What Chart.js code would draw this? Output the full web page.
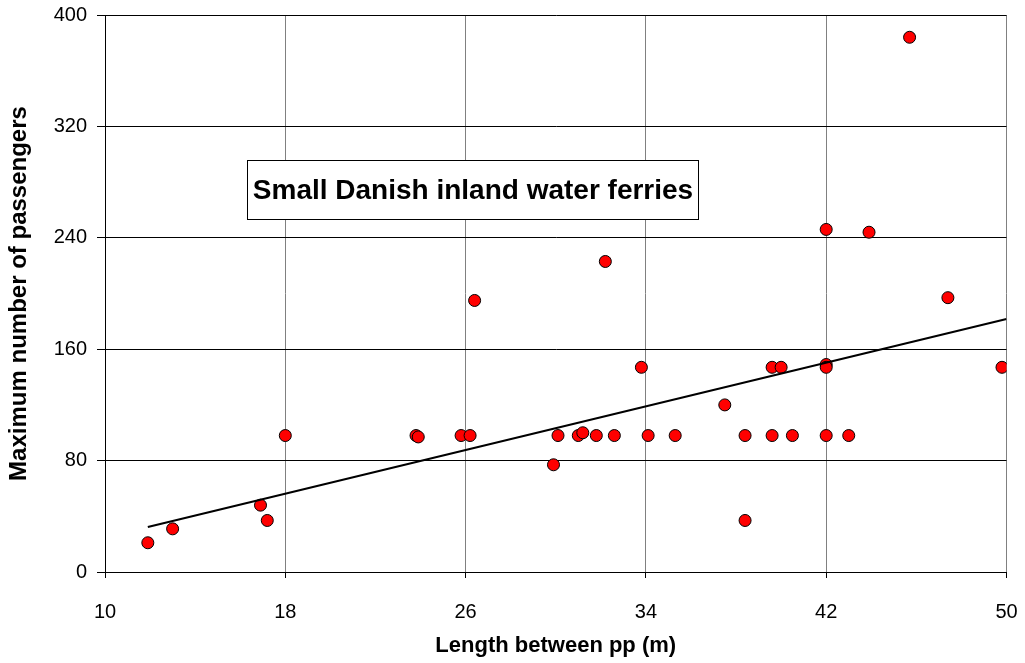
<!DOCTYPE html>
<html>
<head>
<meta charset="utf-8">
<script src="https://cdn.jsdelivr.net/npm/chart.js@4/dist/chart.umd.min.js"></script>
<style>
  html, body { margin: 0; padding: 0; background: #ffffff; }
  #wrap { width: 1025px; height: 663px; }
</style>
</head>
<body>
<div id="wrap"><canvas id="c" width="1025" height="663"></canvas></div>
<script>
// Ferry length between perpendiculars (m) and certified passenger capacity
const lengthPP = [11.9, 13.0, 16.9, 17.2, 18.0, 23.8, 23.9, 25.8, 26.2, 26.4, 29.9, 30.1,
                  31.0, 31.2, 31.8, 32.2, 32.6, 33.8, 34.1, 35.3, 37.5, 38.4, 38.4, 39.6,
                  40.0, 39.6, 40.5, 42.0, 42.0, 42.0, 43.0, 45.7, 42.0, 43.9, 47.4, 49.8];
const maxPassengers = [21, 31, 48, 37, 98, 98, 97, 98, 98, 195, 77, 98,
                       98, 100, 98, 223, 98, 147, 98, 98, 120, 98, 37, 147,
                       147, 98, 98, 149, 147, 98, 98, 384, 246, 244, 197, 147];

// Linear trend line end points
const trendLength = [11.9, 50];
const trendPassengers = [32.3, 181.7];

// Axis ticks
const xTicks = [10, 18, 26, 34, 42, 50];
const yTicks = [0, 80, 160, 240, 320, 400];

const chartTitle = 'Small Danish inland water ferries';
const xTitle = 'Length between pp (m)';
const yTitle = 'Maximum number of passengers';

const FONT = "'Liberation Sans', Arial, sans-serif";
const TICK_FONT = { family: FONT, size: 20 };

const scatterData = lengthPP.map((x, i) => ({ x, y: maxPassengers[i] }));
const trendData = trendLength.map((x, i) => ({ x, y: trendPassengers[i] }));

// Boxed caption drawn inside the plot area
const captionBox = {
  id: 'captionBox',
  afterDraw(chart) {
    const ctx = chart.ctx;
    const left = 247.5, top = 160.5, right = 698.5, bottom = 219.5;
    ctx.save();
    ctx.fillStyle = '#ffffff';
    ctx.fillRect(left, top, right - left, bottom - top);
    ctx.strokeStyle = '#000000';
    ctx.lineWidth = 1;
    ctx.strokeRect(left, top, right - left, bottom - top);
    ctx.fillStyle = '#000000';
    ctx.font = "bold 28px " + FONT;
    ctx.textAlign = 'center';
    ctx.textBaseline = 'middle';
    ctx.fillText(chartTitle, (left + right) / 2, (top + bottom) / 2 + 1);
    ctx.restore();
  }
};

new Chart(document.getElementById('c'), {
  type: 'scatter',
  data: {
    datasets: [
      {
        type: 'line',
        data: trendData,
        borderColor: '#000000',
        borderWidth: 2,
        pointRadius: 0,
        fill: false,
        tension: 0,
        order: 0
      },
      {
        data: scatterData,
        backgroundColor: '#ff0000',
        borderColor: '#000000',
        borderWidth: 1,
        pointRadius: 6,
        pointHoverRadius: 6,
        order: 1
      }
    ]
  },
  options: {
    responsive: false,
    animation: false,
    devicePixelRatio: 1,
    layout: { padding: { left: 0, right: 18.5, top: 15, bottom: 0 } },
    plugins: {
      legend: { display: false },
      tooltip: { enabled: false }
    },
    scales: {
      x: {
        type: 'linear',
        min: 10,
        max: 50,
        afterBuildTicks: (scale) => { scale.ticks = xTicks.map(v => ({ value: v })); },
        afterFit: (scale) => {
          scale.height = 91;
          scale.paddingLeft = 0;
          scale.paddingRight = 0;
        },
        ticks: {
          color: '#000000',
          font: TICK_FONT,
          padding: 22,
          maxRotation: 0,
          autoSkip: false
        },
        grid: {
          color: '#808080',
          tickColor: '#000000',
          tickLength: 6,
          lineWidth: 1
        },
        border: { color: '#000000', width: 1 },
        title: {
          display: true,
          text: xTitle,
          color: '#000000',
          font: { family: FONT, size: 22, weight: 'bold' },
          padding: { top: 0, bottom: 4 }
        }
      },
      y: {
        type: 'linear',
        min: 0,
        max: 400,
        afterBuildTicks: (scale) => { scale.ticks = yTicks.map(v => ({ value: v })); },
        afterFit: (scale) => {
          scale.width = 105;
          scale.paddingTop = 0;
          scale.paddingBottom = 0;
        },
        ticks: {
          color: '#000000',
          font: TICK_FONT,
          padding: 10,
          autoSkip: false
        },
        grid: {
          color: '#000000',
          tickColor: '#000000',
          tickLength: 8,
          lineWidth: 1
        },
        border: { color: '#000000', width: 1 },
        title: {
          display: true,
          text: yTitle,
          color: '#000000',
          font: { family: FONT, size: 24, weight: 'bold' },
          padding: { top: 5, bottom: 0 }
        }
      }
    }
  },
  plugins: [captionBox]
});
</script>
</body>
</html>
